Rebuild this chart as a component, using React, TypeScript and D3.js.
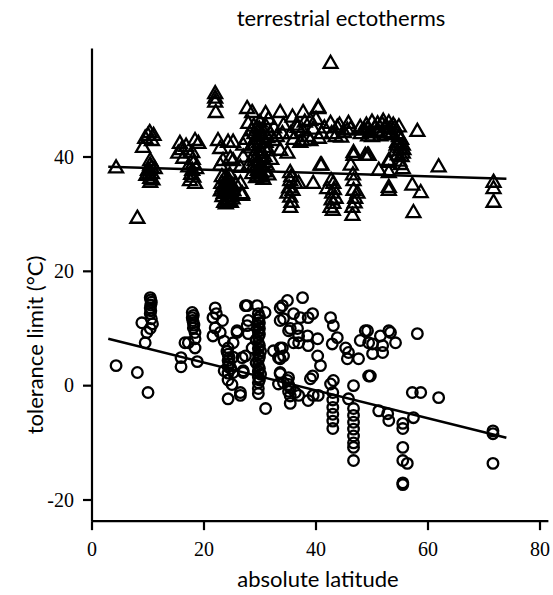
import React from 'react';
import * as d3 from 'd3';

// upper tolerance limits (triangles): [absolute latitude, °C]
const ctMax: [number, number][] = [
  [4.3, 38.0], [8.1, 29.2],
  [9.1, 41.6], [10.0, 43.7], [11.0, 43.7], [9.5, 43.2], [10.7, 42.8], [10.3, 44.2],
  [10.4, 39.3], [10.4, 38.5], [10.0, 37.6], [10.7, 37.0], [10.4, 36.2], [10.4, 35.5], [11.2, 37.9], [9.7, 36.7],
  [10.6, 38.0], [10.2, 36.9], [10.8, 35.9],
  [15.7, 42.3], [18.4, 42.8], [19.0, 42.3], [15.4, 40.6], [17.9, 40.7], [16.8, 41.8], [18.1, 38.8],
  [17.9, 37.6], [18.1, 36.4], [18.4, 35.3], [17.5, 35.8], [16.3, 39.7], [17.2, 38.2],
  [18.0, 39.5], [17.7, 36.9], [18.6, 37.9], [16.0, 41.2],
  [22.0, 51.0], [22.0, 50.2], [22.0, 49.5], [22.1, 47.7],
  [22.5, 42.8], [24.3, 42.5], [22.9, 41.4], [23.4, 39.3], [22.9, 38.5], [24.7, 39.7],
  [23.2, 36.5], [23.8, 35.5], [24.4, 34.5], [23.5, 33.5], [24.0, 32.5], [24.6, 33.0], [25.0, 35.0],
  [23.0, 34.0], [24.2, 36.0], [24.8, 32.0], [23.6, 32.0], [25.2, 34.0], [24.0, 35.2], [23.3, 33.0], [24.6, 36.8],
  [23.4, 34.8], [24.1, 33.8], [24.9, 33.6], [23.7, 36.2], [24.5, 35.8], [23.9, 31.7], [24.4, 32.2], [25.1, 32.6],
  [23.1, 35.3], [24.2, 34.0], [24.7, 34.8], [23.6, 34.3],
  [26.8, 33.5], [26.5, 35.3], [25.6, 35.3], [26.8, 33.2], [25.2, 34.1],
  [25.2, 42.5], [27.0, 39.9], [25.2, 39.3], [26.5, 38.1],
  [27.7, 48.4], [28.6, 47.7], [31.0, 47.5], [33.6, 47.7], [35.8, 46.9], [37.7, 47.7], [40.4, 48.6], [39.0, 46.3],
  [27.9, 45.8], [30.0, 46.0], [34.2, 45.5], [36.7, 45.1], [42.6, 45.8], [43.8, 45.1], [45.6, 44.6], [47.9, 45.1], [49.2, 44.9],
  [28.5, 44.5], [29.5, 43.5], [30.5, 44.5], [29.0, 42.0], [30.0, 41.0], [31.0, 42.5], [28.8, 40.0], [29.8, 39.0],
  [30.8, 40.0], [29.2, 38.0], [30.2, 37.2], [31.2, 38.5], [28.6, 37.0], [29.5, 45.0], [30.5, 43.0], [31.5, 41.0],
  [28.3, 41.5], [29.6, 36.5], [30.6, 36.0], [31.8, 44.0], [32.0, 39.5],
  [29.0, 44.0], [29.8, 42.5], [30.2, 43.8], [29.4, 41.0], [30.4, 40.5], [29.0, 39.3], [30.0, 38.2], [30.8, 39.0],
  [29.6, 37.6], [30.9, 37.3], [29.2, 43.0], [30.7, 41.6], [29.9, 44.8], [28.9, 45.3], [31.3, 43.3], [29.3, 36.3],
  [30.3, 36.6], [28.9, 38.4], [31.1, 45.2], [30.1, 39.8],
  [32.4, 42.8], [37.2, 42.5], [33.6, 41.1], [34.9, 40.6],
  [40.8, 38.5], [46.7, 40.2], [46.2, 38.5], [49.2, 40.2],
  [30.0, 36.4], [29.7, 37.2],
  [35.4, 37.2], [35.4, 35.8], [35.8, 34.1], [35.4, 32.9], [35.4, 31.1], [36.9, 35.3], [39.5, 35.3], [34.9, 33.6],
  [35.6, 36.5], [35.2, 34.5], [35.6, 32.0],
  [43.1, 35.3], [42.9, 33.6], [43.1, 31.8], [42.6, 31.1], [43.5, 32.7], [42.0, 34.4], [43.0, 30.6],
  [42.8, 32.4], [43.2, 34.2], [42.7, 35.8],
  [46.7, 35.8], [46.7, 34.1], [47.0, 32.7], [46.5, 31.1], [46.5, 29.7], [47.4, 33.6],
  [46.6, 36.8], [46.9, 31.9],
  [40.4, 48.4], [42.6, 56.3], [41.0, 38.5], [36.3, 35.3],
  [35.5, 44.0], [36.5, 45.5], [37.6, 42.8], [37.6, 44.5], [38.5, 43.5], [39.5, 44.8], [40.5, 43.2],
  [41.5, 45.0], [38.0, 46.0], [36.0, 43.0], [40.0, 46.5], [41.0, 44.0], [39.0, 42.8],
  [42.8, 44.0], [43.5, 43.5], [44.2, 45.5], [45.0, 44.2], [45.8, 45.8], [44.5, 43.4], [46.2, 44.8],
  [48.0, 44.0], [49.0, 45.5], [50.0, 43.5], [50.5, 45.0], [51.2, 44.2], [51.8, 45.6], [52.5, 43.8],
  [53.2, 44.8], [53.8, 45.5], [54.5, 44.0], [50.0, 46.0], [52.0, 46.2],
  [48.6, 44.6], [49.6, 44.2], [50.9, 44.5], [51.5, 43.6], [52.3, 45.1], [52.9, 44.2], [53.5, 43.9], [54.1, 45.0],
  [49.3, 43.6], [51.0, 45.7], [53.0, 45.9], [54.8, 45.2],
  [54.5, 42.5], [55.0, 41.5], [55.5, 40.6], [54.8, 43.5], [55.3, 40.0], [55.5, 42.0], [54.2, 41.0],
  [54.9, 39.2], [55.2, 43.0], [54.6, 40.3], [55.6, 41.2], [54.4, 42.0], [55.1, 38.6],
  [58.1, 44.4], [61.9, 38.2], [71.7, 35.5], [71.7, 34.4], [71.7, 32.0],
  [49.4, 40.2], [53.0, 39.3], [51.2, 37.6], [53.0, 37.2], [55.5, 37.9], [53.0, 34.6], [53.0, 34.1],
  [57.2, 35.0], [58.7, 33.7], [57.4, 30.2], [48.8, 40.2], [53.0, 39.0],
  [46.7, 40.7], [31.5, 46.5], [32.5, 45.0], [33.0, 43.5], [34.0, 44.0], [27.5, 43.0], [28.0, 38.5], [27.0, 42.0], [31.5, 36.8],
];

// lower tolerance limits (circles): [absolute latitude, °C]
const ctMin: [number, number][] = [
  [4.3, 3.5], [8.1, 2.3], [10.0, -1.2],
  [10.4, 15.4], [10.6, 14.6], [10.4, 13.6], [10.4, 12.6], [10.6, 11.7], [10.8, 10.8], [10.4, 10.0], [8.9, 11.0], [9.8, 9.3], [9.5, 7.5],
  [10.5, 15.0], [10.5, 14.1], [10.5, 13.1],
  [17.9, 12.8], [17.9, 11.9], [18.1, 11.0], [18.1, 10.1], [18.4, 9.3], [18.4, 8.2], [16.6, 7.5], [18.4, 6.6],
  [15.9, 4.9], [15.9, 3.3], [18.8, 4.2], [17.2, 7.5], [18.1, 12.3], [18.0, 11.4], [18.2, 10.6],
  [22.0, 13.6], [21.6, 11.9], [23.3, 11.4], [22.0, 10.1], [22.9, 9.3], [21.6, 8.7], [22.2, 12.6],
  [24.3, 6.6], [24.3, 5.5], [24.3, 4.4], [24.3, 3.3], [24.3, 2.2], [24.3, 1.0], [23.6, 7.8], [24.5, 4.9],
  [23.6, 2.6], [24.8, 3.0], [24.3, -2.3], [26.5, -1.7], [25.0, 0.2], [24.1, 6.0], [24.5, 3.8],
  [25.9, 9.6], [26.8, 4.9], [27.0, 2.6], [27.7, 14.0], [29.5, 14.0], [27.9, 11.4], [27.9, 9.1], [28.6, 6.6],
  [29.7, 12.6], [29.7, 11.5], [29.7, 10.5], [29.7, 9.5], [29.7, 8.5], [29.7, 7.5], [29.7, 6.5], [29.7, 5.5],
  [29.7, 4.5], [29.7, 3.5], [29.7, 2.5], [29.7, 1.5], [29.7, 0.5], [29.7, -0.5], [29.7, -1.4],
  [29.9, 12.0], [29.9, 11.0], [29.9, 10.0], [29.9, 9.0], [29.9, 7.0], [29.9, 5.0], [29.9, 3.0], [29.9, 1.0],
  [29.3, 8.0], [29.3, 4.0], [30.1, 6.0], [30.1, 2.0], [31.0, -4.0],
  [32.4, 6.1], [34.0, 6.6], [33.6, 4.7], [33.6, 2.1], [33.3, 0.3], [34.9, 0.9], [35.4, -0.4], [35.4, -1.8],
  [35.4, -3.1], [36.9, -1.7], [33.6, 11.4], [35.1, 9.6], [34.0, 14.0], [34.9, 14.9], [37.6, 15.4],
  [36.9, 7.5], [38.6, 7.0], [38.6, 11.9], [36.0, 12.6],
  [27.4, 14.0], [30.9, 12.8], [33.6, 13.6], [34.2, 11.7], [37.2, 11.9], [39.4, 12.6], [42.6, 11.9], [43.1, 10.5],
  [25.9, 9.3], [27.7, 10.5], [36.9, 8.7], [38.5, 8.7], [40.3, 8.2], [35.4, 10.0], [36.0, 7.5], [36.7, 10.0],
  [40.3, 5.2], [40.8, 3.5], [39.4, 1.7], [39.0, 1.2], [42.9, 7.3], [43.8, 8.4], [45.3, 6.6], [45.8, 5.8],
  [47.9, 7.9], [47.6, 4.7], [49.4, 7.5], [45.6, 4.7],
  [33.6, 6.6], [34.2, 5.2], [33.3, 4.9], [33.6, 2.3], [34.2, 0.5], [35.1, 1.4], [35.1, 0.2], [35.1, -1.0],
  [36.3, -1.2], [26.5, -1.2], [39.5, -1.7], [40.4, -1.7], [38.6, -2.6], [42.6, 0.3],
  [43.0, -1.2], [43.0, -2.5], [43.0, -3.8], [43.0, -5.0], [43.0, -6.2], [43.0, -7.5], [43.1, 0.9],
  [46.7, 0.0], [45.8, -2.3],
  [46.7, -4.0], [46.7, -5.2], [46.7, -6.4], [46.7, -7.6], [46.7, -8.8], [46.7, -10.0], [46.7, -10.8], [46.7, -13.1],
  [49.4, 1.7], [25.2, 7.5], [25.2, 5.0], [25.2, 2.3], [27.4, 5.2], [27.0, 2.3],
  [49.2, 9.6], [51.5, 8.7], [53.3, 9.3], [54.2, 7.5], [50.1, 7.3], [51.9, 7.0], [50.1, 5.6], [51.9, 5.8],
  [58.1, 9.1], [49.7, 1.7], [57.2, -1.2], [58.7, -1.2], [61.9, -2.1], [51.2, -4.4], [52.8, -4.9], [53.0, -6.1],
  [55.5, -6.6], [55.5, -7.5], [57.4, -5.6], [55.5, -10.8], [55.5, -13.1], [56.3, -13.6], [55.5, -17.0], [55.5, -17.3],
  [71.6, -7.9], [71.6, -8.4], [71.6, -13.6], [48.8, 9.6], [53.0, 9.6],
];

// fitted regression lines
const ctMaxFit: [number, number][] = [[2.9, 38.3], [74, 36.2]];
const ctMinFit: [number, number][] = [[2.9, 8.2], [74, -9.1]];

const xTicks = [0, 20, 40, 60, 80];
const yTicks = [-20, 0, 20, 40];

const W = 553;
const H = 595;

export default function App() {
  const x = d3.scaleLinear().domain([0, 80]).range([92, 540]);
  const y = d3.scaleLinear().domain([-20, 40]).range([500, 157]);

  const xAxisEnd = 81.5;
  const yTop = 59;
  const yBottom = -23.7;

  const line = d3.line<[number, number]>()
    .x(d => x(d[0]))
    .y(d => y(d[1]));

  const tri = d3.symbol().type(d3.symbolTriangle).size(84)();

  const sans = 'Lato, "Open Sans", sans-serif';
  const serif = '"Liberation Serif", "Times New Roman", serif';

  return (
    <svg
      width={W}
      height={H}
      style={{ position: 'absolute', left: 0, top: 0, background: '#fff' }}
    >
      <text x={341} y={26} textAnchor="middle" fontFamily={sans} fontSize={22}>
        terrestrial ectotherms
      </text>

      {/* axes */}
      <g stroke="#000" strokeWidth={2.2} fill="none">
        <line x1={x(0)} x2={x(0)} y1={y(yTop)} y2={y(yBottom)} />
        <line x1={x(0)} x2={x(xAxisEnd)} y1={y(yBottom)} y2={y(yBottom)} />
        {yTicks.map(t => (
          <line key={'yt' + t} x1={x(0) - 9} x2={x(0)} y1={y(t)} y2={y(t)} />
        ))}
        {xTicks.map(t => (
          <line key={'xt' + t} x1={x(t)} x2={x(t)} y1={y(yBottom)} y2={y(yBottom) + 9} />
        ))}
      </g>
      {yTicks.map(t => (
        <text key={'yl' + t} x={74} y={y(t)} dy="0.34em" textAnchor="end" fontFamily={serif} fontSize={20}>
          {t}
        </text>
      ))}
      {xTicks.map(t => (
        <text key={'xl' + t} x={x(t)} y={556} textAnchor="middle" fontFamily={serif} fontSize={20}>
          {t}
        </text>
      ))}
      <text x={318} y={587} textAnchor="middle" fontFamily={sans} fontSize={22}>
        absolute latitude
      </text>
      <text
        transform={`translate(43, 345) rotate(-90)`}
        textAnchor="middle"
        fontFamily={sans}
        fontSize={22}
      >
        tolerance limit (°C)
      </text>

      {/* points */}
      <g fill="none" stroke="#000" strokeWidth={2.3}>
        {ctMax.map((d, i) => (
          <path key={'t' + i} d={tri || ''} transform={`translate(${x(d[0])},${y(d[1])})`} />
        ))}
        {ctMin.map((d, i) => (
          <circle key={'c' + i} cx={x(d[0])} cy={y(d[1])} r={5.3} />
        ))}
      </g>

      {/* regression lines */}
      <path d={line(ctMaxFit) || ''} fill="none" stroke="#000" strokeWidth={2.5} />
      <path d={line(ctMinFit) || ''} fill="none" stroke="#000" strokeWidth={2.5} />
    </svg>
  );
}
